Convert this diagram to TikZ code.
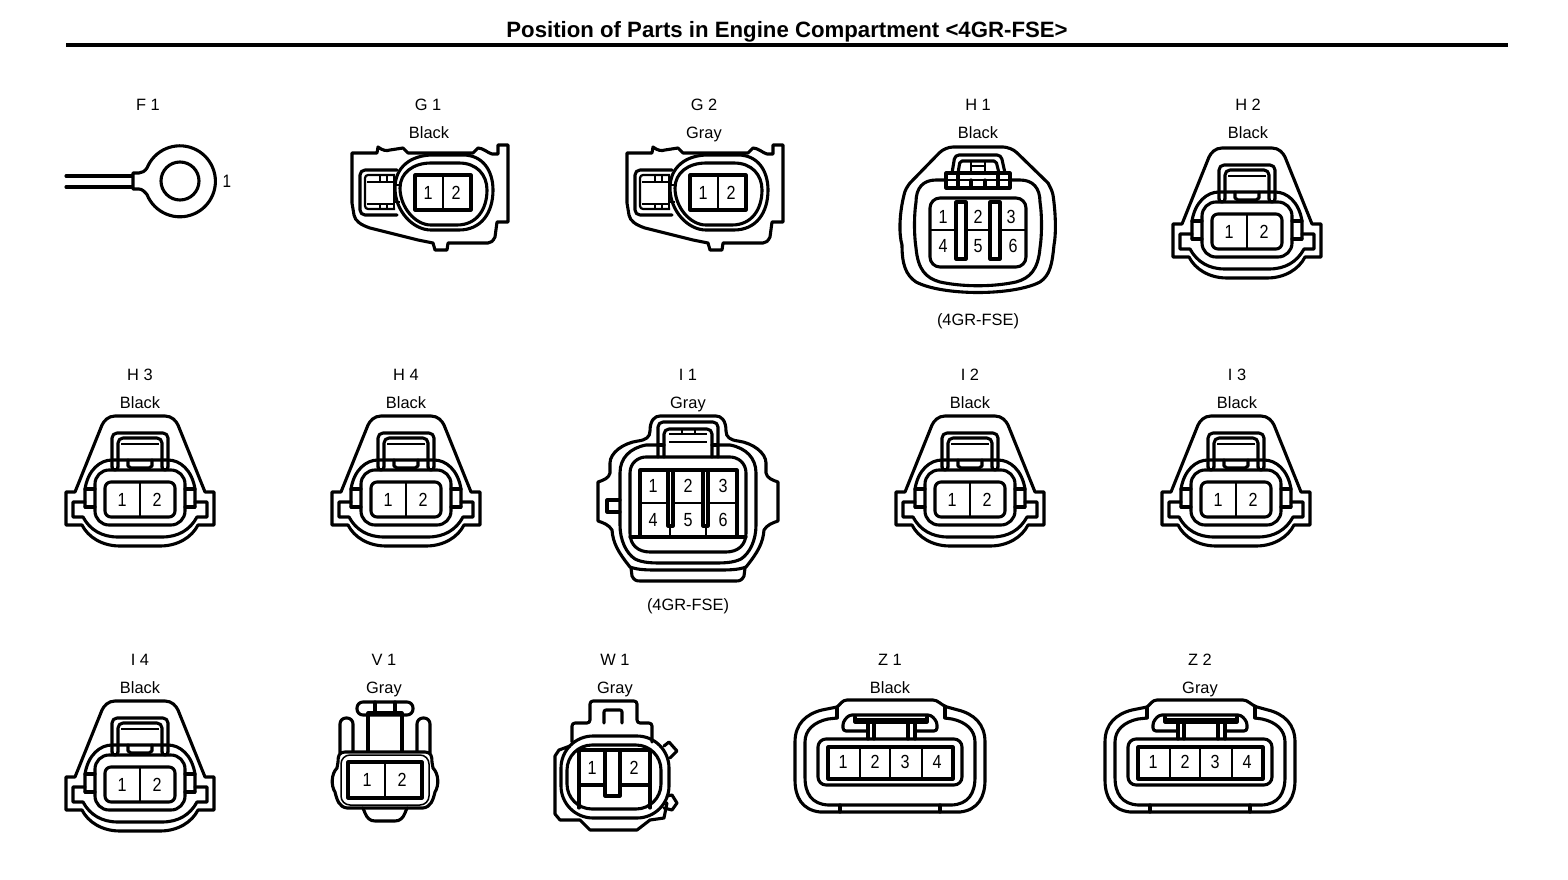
\documentclass[tikz,border=0pt]{standalone}
\usepackage{fontspec}
\setmainfont{Liberation Sans}
\tikzset{
 x=1pt,y=-1pt,
 ln/.style={line width=3.1pt,line join=round,line cap=round,draw=black},
 thn/.style={line width=2.2pt,line join=round,draw=black},
 lab/.style={font=\fontsize{16.4}{18}\selectfont,anchor=base,inner sep=0pt},
 pin/.style={font=\fontsize{19}{20}\selectfont,anchor=base,inner sep=0pt,xscale=.85},
 plugA/.pic={
  \draw[ln] (-25,-84)--(25,-84) .. controls (32,-84) and (36,-79) .. (38,-75)--(65,-8)--(74,-8)--(74,25)--(58,25)
    .. controls (52,37) and (38,46) .. (20,46)--(-20,46) .. controls (-38,46) and (-52,37) .. (-58,25)
    --(-74,25)--(-74,-8)--(-65,-8)--(-38,-75) .. controls (-36,-79) and (-32,-84) .. (-25,-84)--cycle;
  \draw[ln] (-55,7)--(-55,-11) .. controls (-52,-30) and (-40,-40) .. (-28,-40)--(28,-40) .. controls (40,-40) and (52,-30) .. (55,-11)--(55,7);
  \draw[ln] (-55,-11)--(-45,-11) (-55,7)--(-45,7) (55,-11)--(45,-11) (55,7)--(45,7);
  \draw[ln] (-55,2)--(-67,2)--(-67,17)--(-57,17) .. controls (-50,30) and (-38,37) .. (-22,37)--(22,37) .. controls (38,37) and (50,30) .. (57,17)--(67,17)--(67,2)--(55,2);
  \draw[ln,rounded corners=14pt] (-45,-30) rectangle (45,25);
  \draw[ln,rounded corners=6pt] (-35,-18) rectangle (35,17);
  \draw[thn] (0,-18)--(0,17);
  \draw[ln,rounded corners=5pt] (-28,-33)--(-28,-67)--(28,-67)--(28,-33);
  \draw[ln,rounded corners=5pt] (-22,-33)--(-22,-62)--(22,-62)--(22,-33);
  \draw[ln] (-28,-33) arc[start angle=180,end angle=360,x radius=3,y radius=-3] (22,-33) arc[start angle=180,end angle=360,x radius=3,y radius=-3];
  \draw[thn] (-19,-56)--(19,-56);
  \draw[ln] (-12,-40)--(-12,-34)--(-9,-32)--(9,-32)--(12,-34)--(12,-40);
  \node[pin] (-a) at (-18,6) {1};
  \node[pin] (-b) at (17,6) {2};
 },
 plugG/.pic={
  \draw[ln] (-91,-40)--(-66,-40)--(-65,-46) .. controls (-60,-42) and (-56,-42) .. (-53,-43)--(-40,-45)--(-35,-40)
    --(30,-40)--(35,-45) .. controls (40,-45) and (45,-40) .. (49,-39)--(55,-39)--(55,-48)--(65,-48)--(65,29)--(54,29)--(52,44)
    .. controls (50,48) and (48,50) .. (45,50)--(5,50)--(4,57)--(-8,57)--(-10,50)--(-25,47)--(-73,35)
    .. controls (-82,32) and (-88,28) .. (-89,22)--(-91,10)--cycle;
  \draw[ln] (-48,-5) .. controls (-48,-26) and (-32,-38) .. (-10,-38)--(20,-38) .. controls (40,-38) and (50,-22) .. (50,-3)
     .. controls (50,20) and (38,37) .. (16,37)--(-12,37) .. controls (-30,37) and (-48,18) .. (-48,-5)--cycle;
  \draw[ln] (-43,-5) .. controls (-43,-20) and (-30,-30) .. (-12,-30)--(16,-30) .. controls (34,-30) and (44,-18) .. (44,-3)
     .. controls (44,16) and (34,32) .. (14,32)--(-12,32) .. controls (-28,32) and (-43,14) .. (-43,-5)--cycle;
  \draw[ln] (-28,-18) rectangle (28,17);
  \draw[thn] (0,-18)--(0,17);
  \draw[ln,rounded corners=5pt] (-46,-23)--(-83,-23)--(-83,22)--(-46,22);
  \draw[thn,rounded corners=3pt] (-48,-18)--(-78,-18)--(-78,16)--(-48,16);
  \draw[thn] (-76,-11)--(-50,-11) (-76,11)--(-50,11) (-49,-18)--(-49,16);
  \draw[thn] (-48,-8)--(-43,-8) (-48,9)--(-43,9);
  \draw[line width=1.5pt] (-63,-18)--(-63,-11) (-56,-18)--(-56,-11) (-63,11)--(-63,16) (-56,11)--(-56,16);
  \node[pin] (-a) at (-15,6) {1};
  \node[pin] (-b) at (13,6) {2};
 },
 plugH/.pic={
  \draw[ln] (70,-37) .. controls (72,-33) and (74,-30) .. (75,-25)
    .. controls (78,-5) and (78,15) .. (76,25) .. controls (74,45) and (72,55) .. (62,62) .. controls (35,76) and (-35,76) .. (-62,62)
    .. controls (-72,55) and (-76,45) .. (-76,25) .. controls (-79,15) and (-79,-5) .. (-74,-25) .. controls (-73,-30) and (-71,-33) .. (-68,-37);
  \draw[ln,rounded corners=8pt] (70,-37)--(33,-73)--(-33,-73)--(-68,-37);
  \draw[ln] (-32,-40) -- (-42,-40) .. controls (-55,-40) and (-62,-32) .. (-62,-18) .. controls (-64,-5) and (-64,15) .. (-62,28)
    .. controls (-60,50) and (-52,58) .. (-38,62) .. controls (-15,67) and (15,67) .. (38,62) .. controls (52,58) and (60,50) .. (62,28)
    .. controls (64,15) and (64,-5) .. (62,-18) .. controls (62,-32) and (55,-40) .. (42,-40)--(32,-40);
  \draw[ln,rounded corners=10pt] (-48,-22)--(48,-22)--(48,47)--(-48,47)--cycle;
  \draw[thn] (-48,10)--(48,10);
  \draw[ln,fill=white] (-22,-18) rectangle (-12,39);
  \draw[ln,fill=white] (12,-18) rectangle (22,39);
  \draw[ln] (-32,-47) rectangle (32,-32);
  \draw[thn] (-32,-40)--(32,-40);
  \draw[ln] (-20,-47)--(-20,-32) (-7,-40)--(-7,-32) (7,-40)--(7,-32) (20,-47)--(20,-32);
  \draw[ln,rounded corners=4pt] (-26,-47)--(-23,-65)--(23,-65)--(27,-47);
  \draw[ln,rounded corners=2pt] (-20,-47)--(-18,-59)--(18,-59)--(21,-47);
  \draw[thn] (-7,-54)--(7,-54) (-7,-59)--(-7,-47) (7,-59)--(7,-47) (-19,-47)--(19,-47);
  \node[pin] (-a) at (-35,3) {1};
  \node[pin] (-b) at (0,3) {2};
  \node[pin] (-c) at (33,3) {3};
  \node[pin] (-d) at (-35,32) {4};
  \node[pin] (-e) at (0,32) {5};
  \node[pin] (-f) at (35,32) {6};
 },
 plugI/.pic={
  \draw[ln] (-38,-72) .. controls (-38,-83) and (-33,-87) .. (-28,-87)--(28,-87) .. controls (33,-87) and (38,-83) .. (38,-72)
    .. controls (38,-66) and (42,-63) .. (50,-62) .. controls (65,-60) and (78,-50) .. (78,-40)--(78,-30) .. controls (79,-25) and (84,-23) .. (90,-21)
    --(90,18) .. controls (84,20) and (79,22) .. (76,27) .. controls (75,40) and (70,49) .. (58,64)
    .. controls (50,67) and (40,67) .. (30,67)--(-30,67) .. controls (-40,67) and (-50,67) .. (-58,64)
    .. controls (-70,49) and (-75,40) .. (-76,27) .. controls (-79,22) and (-84,20) .. (-90,18)--(-90,-21)
    .. controls (-84,-23) and (-79,-25) .. (-78,-30)--(-78,-40) .. controls (-78,-50) and (-65,-60) .. (-50,-62)
    .. controls (-42,-63) and (-38,-66) .. (-38,-72)--cycle;
  \draw[ln] (-68,-3)--(-81,-3)--(-81,9)--(-68,9);
  \draw[ln] (-30,-58)--(-42,-58) .. controls (-58,-55) and (-68,-45) .. (-68,-30)--(-68,22) .. controls (-68,37) and (-62,50) .. (-53,56)
     .. controls (-45,60) and (-35,60) .. (-25,60)--(25,60) .. controls (35,60) and (45,60) .. (53,56) .. controls (62,50) and (68,37) .. (68,22)--(68,-30)
     .. controls (68,-45) and (58,-55) .. (42,-58)--(30,-58);
  \draw[ln] (-57,65)--(-56,73) .. controls (-54,77) and (-52,78) .. (-48,78)--(48,78) .. controls (52,78) and (54,77) .. (56,73)--(57,65);
  \draw[ln] (-58,-30) .. controls (-58,-40) and (-50,-46) .. (-42,-46)--(42,-46) .. controls (50,-46) and (58,-40) .. (58,-30)--(58,30)
     .. controls (58,42) and (50,49) .. (38,49)--(-38,49) .. controls (-50,49) and (-58,42) .. (-58,30)--cycle;
  \draw[ln] (-48,34)--(-48,-33)--(49,-33)--(49,34);
  \draw[ln] (-58,34)--(58,34);
  \draw[thn] (-48,0)--(49,0);
  \draw[ln,fill=white] (-20,-33) rectangle (-15,23);
  \draw[ln,fill=white] (15,-33) rectangle (20,23);
  \draw[thn] (-18,23)--(-18,34) (18,23)--(18,34);
  \draw[ln,rounded corners=5pt] (-30,-46)--(-30,-81)--(30,-81)--(30,-46);
  \draw[ln,rounded corners=5pt] (-24,-46)--(-24,-74)--(24,-74)--(24,-46);
  \draw[ln] (-30,-58)--(-24,-58) (24,-58)--(30,-58);
  \draw[thn] (-19,-69)--(19,-69) (-19,-61)--(19,-61) (-6,-74)--(-6,-69) (7,-74)--(7,-69);
  \node[pin] (-a) at (-35,-11) {1};
  \node[pin] (-b) at (0,-11) {2};
  \node[pin] (-c) at (35,-11) {3};
  \node[pin] (-d) at (-35,23) {4};
  \node[pin] (-e) at (0,23) {5};
  \node[pin] (-f) at (35,23) {6};
 },
 plugV/.pic={
  \draw[ln,rounded corners=6pt] (-45,-27)--(-45,-62)--(-32,-62)--(-32,-28);
  \draw[ln,rounded corners=6pt] (32,-28)--(32,-62)--(45,-62)--(45,-27);
  \draw[ln] (-17,-28)--(-17,-67)--(17,-67)--(17,-28);
  \draw[ln,rounded corners=6pt] (-28,-78)--(28,-78)--(28,-65)--(-28,-65)--cycle;
  \draw[ln] (-10,-78)--(-10,-68) (10,-78)--(10,-68);
  \draw[ln,fill=white] (-40,-28)--(40,-28) .. controls (46,-28) and (47,-24) .. (47,-18)--(48,-12) .. controls (54,-6) and (54,6) .. (50,12)
    .. controls (48,20) and (46,27) .. (38,28)--(-38,28) .. controls (-46,27) and (-48,20) .. (-50,12) .. controls (-54,6) and (-54,-6) .. (-48,-12)--(-47,-18) .. controls (-47,-24) and (-46,-28) .. (-40,-28)--cycle;
  \draw[line width=1.5pt,rounded corners=9pt] (-44,-25) rectangle (44,25);
  \draw[ln] (-22,28)--(-20,33) .. controls (-18,38) and (-15,41) .. (-10,41)--(10,41) .. controls (15,41) and (18,38) .. (20,33)--(22,28);
  \draw[ln] (-37,-18) rectangle (37,18);
  \draw[thn] (0,-18)--(0,18);
  \node[pin] (-a) at (-18,6) {1};
  \node[pin] (-b) at (17,6) {2};
 },
 plugW/.pic={
  \draw[ln,rounded corners=3pt] (-45,-36)--(-45,-55)--(-27,-55)--(-27,-77)--(20,-77)--(20,-55)--(35,-55)--(35,-36);
  \draw[ln,rounded corners=2pt] (-13,-55)--(-13,-68)--(5,-68)--(5,-55);
  \draw[ln] (-47,-32)--(-58,-28)--(-62,-22)--(-62,36)--(-57,42)--(-37,42)--(-27,52)--(20,52)--(33,42)--(47,40)--(50,25);
  \draw[ln] (47,-32)--(52,-36)--(60,-27)--(53,-20);
  \draw[ln] (50,18)--(55,17)--(60,25)--(55,32)--(47,30);
  \draw[ln,rounded corners=32pt] (-56,-42)--(52,-42)--(52,40)--(-56,40)--cycle;
  \draw[ln,rounded corners=25pt] (-50,-33)--(44,-33)--(44,31)--(-50,31)--cycle;
  \draw[ln] (-38,30)--(-38,-28)--(33,-28)--(33,30);
  \draw[ln] (-38,7)--(33,7);
  \draw[ln,fill=white] (-12,-28) rectangle (3,18);
  \node[pin] (-a) at (-25,-4) {1};
  \node[pin] (-b) at (17,-4) {2};
 },
 plugZ/.pic={
  \draw[ln] (-53,-55) .. controls (-50,-57) and (-48,-62) .. (-43,-62)--(43,-62) .. controls (48,-62) and (51,-57) .. (57,-55)
    --(68,-52) .. controls (84,-48) and (95,-38) .. (95,-20)--(95,18) .. controls (95,35) and (88,48) .. (70,50)--(-70,50)
    .. controls (-88,48) and (-95,35) .. (-95,18)--(-95,-20) .. controls (-95,-38) and (-84,-48) .. (-68,-52)--cycle;
  \draw[ln] (-53,-55)--(-53,-44) (55,-55)--(55,-44);
  \draw[ln] (-53,-44)--(-62,-43) .. controls (-76,-40) and (-85,-32) .. (-85,-20)--(-85,15) .. controls (-85,32) and (-78,42) .. (-62,43)--(62,43)
    .. controls (78,42) and (85,32) .. (85,15)--(85,-20) .. controls (85,-32) and (76,-40) .. (62,-43)--(55,-44);
  \draw[ln] (-50,43)--(-50,50) (50,43)--(50,50);
  \draw[ln,rounded corners=8pt] (-72,-23) rectangle (72,23);
  \draw[ln] (-62,-15) rectangle (63,17);
  \draw[thn] (-30,-15)--(-30,17) (0,-15)--(0,17) (32,-15)--(32,17);
  \draw[ln,rounded corners=3pt] (-22,-31)--(-47,-31)--(-47,-40)--(-41,-47)--(41,-47)--(47,-40)--(47,-31)--(25,-31);
  \draw[ln] (-35,-45)--(-35,-40)--(37,-40)--(37,-45);
  \draw[ln] (-35,-42)--(37,-42);
  \draw[ln] (-22,-40)--(-22,-23) (-16,-40)--(-16,-23) (18,-40)--(18,-23) (25,-40)--(25,-23);
  \node[pin] (-a) at (-47,6) {1};
  \node[pin] (-b) at (-15,6) {2};
  \node[pin] (-c) at (15,6) {3};
  \node[pin] (-d) at (47,6) {4};
 }
}
\newcommand{\lb}[4]{\node[lab] (#1) at (#2,#3+6) {#4};}
\begin{document}
\begin{tikzpicture}
\useasboundingbox (0,0) rectangle (1568,880);
\fill[white] (0,0) rectangle (1568,880);
\node[font=\bfseries\fontsize{22.2}{24}\selectfont,anchor=base,inner sep=0pt] (title) at (787,37.5) {Position of Parts in Engine Compartment <4GR-FSE>};
\coordinate (rl) at (66,45); \coordinate (rr) at (1508,45);
\draw[line width=3.6pt] (rl)--(rr);
% F1
\draw[ln] (66,176)--(132,176) (66,187)--(132,187);
\draw[ln] (133,173)--(139,173) .. controls (142,173) and (145,171) .. (147,168)
  arc[start angle=-158,end angle=158,radius=35.5] .. controls (145,192) and (142,189) .. (139,189)--(133,189)--cycle;
\draw[ln] (180,181) circle[radius=19];
\lb{tF}{148}{105}{F 1}
\node[pin,font=\fontsize{18}{18}\selectfont] (nF) at (227,187) {1};
\lb{tGa}{428}{105}{G 1}\lb{cGa}{429}{133}{Black}
\lb{tGb}{704}{105}{G 2}\lb{cGb}{704}{133}{Gray}
\lb{tHa}{978}{105}{H 1}\lb{cHa}{978}{133}{Black}
\lb{tHb}{1248}{105}{H 2}\lb{cHb}{1248}{133}{Black}
\lb{nHa}{978}{319}{(4GR-FSE)}
\lb{tHc}{140}{374}{H 3}\lb{cHc}{140}{402}{Black}
\lb{tHd}{406}{374}{H 4}\lb{cHd}{406}{402}{Black}
\lb{tIa}{688}{374}{I 1}\lb{cIa}{688}{402}{Gray}
\lb{tIb}{970}{374}{I 2}\lb{cIb}{970}{402}{Black}
\lb{tIc}{1237}{374}{I 3}\lb{cIc}{1237}{402}{Black}
\lb{nIa}{688}{604}{(4GR-FSE)}
\lb{tId}{140}{659}{I 4}\lb{cId}{140}{687}{Black}
\lb{tV}{384}{659}{V 1}\lb{cV}{384}{687}{Gray}
\lb{tW}{615}{659}{W 1}\lb{cW}{615}{687}{Gray}
\lb{tZa}{890}{659}{Z 1}\lb{cZa}{890}{687}{Black}
\lb{tZb}{1200}{659}{Z 2}\lb{cZb}{1200}{687}{Gray}
\pic (gone) at (443,193) {plugG};
\pic (gtwo) at (718,193) {plugG};
\pic (hone) at (978,220) {plugH};
\pic (htwo) at (1247,232) {plugA};
\pic (hthree) at (140,500) {plugA};
\pic (hfour) at (406,500) {plugA};
\pic (ione) at (688,503) {plugI};
\pic (itwo) at (970,500) {plugA};
\pic (ithree) at (1236,500) {plugA};
\pic (ifour) at (140,785) {plugA};
\pic (vone) at (385,780) {plugV};
\pic (wone) at (617,778) {plugW};
\pic (zone) at (890,762) {plugZ};
\pic (ztwo) at (1200,762) {plugZ};
\end{tikzpicture}
\end{document}
